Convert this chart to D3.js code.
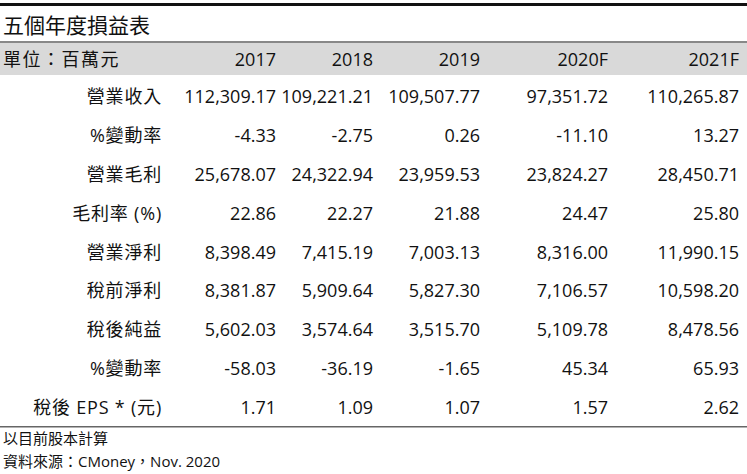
<!DOCTYPE html>
<html><head><meta charset="utf-8">
<script src="https://cdn.jsdelivr.net/npm/d3@7"></script>
<style>body{margin:0;background:#fff}text{font-family:"Open Sans","Noto Sans CJK TC",sans-serif;fill:#111}</style>
</head><body><svg id="c" width="747" height="474"></svg>
<script>
// table contents
var years = ["2017", "2018", "2019", "2020F", "2021F"];
var rowLabels = ["營業收入", "%變動率", "營業毛利", "毛利率 (%)", "營業淨利", "稅前淨利", "稅後純益", "%變動率", "稅後 EPS * (元)"];
var revenue = ["112,309.17", "109,221.21", "109,507.77", "97,351.72", "110,265.87"];
var revenueChg = ["-4.33", "-2.75", "0.26", "-11.10", "13.27"];
var grossProfit = ["25,678.07", "24,322.94", "23,959.53", "23,824.27", "28,450.71"];
var grossMargin = ["22.86", "22.27", "21.88", "24.47", "25.80"];
var opIncome = ["8,398.49", "7,415.19", "7,003.13", "8,316.00", "11,990.15"];
var preTax = ["8,381.87", "5,909.64", "5,827.30", "7,106.57", "10,598.20"];
var netIncome = ["5,602.03", "3,574.64", "3,515.70", "5,109.78", "8,478.56"];
var netChg = ["-58.03", "-36.19", "-1.65", "45.34", "65.93"];
var eps = ["1.71", "1.09", "1.07", "1.57", "2.62"];
var rows = [revenue, revenueChg, grossProfit, grossMargin, opIncome, preTax, netIncome, netChg, eps];

var svg = d3.select("#c");
var colRight = d3.scaleOrdinal().domain(years).range([276, 373, 480, 608, 739]);
var y = d3.scaleBand().domain(d3.range(rows.length)).range([78, 427]);

svg.append("rect").attr("x", 0).attr("y", 3).attr("width", 747).attr("height", 3).attr("fill", "#111");
svg.append("text").attr("x", 3).attr("y", 33).attr("font-size", 21).text("五個年度損益表");
svg.append("rect").attr("x", 0).attr("y", 41).attr("width", 747).attr("height", 2).attr("fill", "#888");
svg.append("rect").attr("x", 0).attr("y", 43).attr("width", 747).attr("height", 32).attr("fill", "#d9d9d9");
svg.append("text").attr("x", 3).attr("y", 66).attr("font-size", 18).attr("letter-spacing", 1.5).text("單位：百萬元");
years.forEach(function(yr) {
    svg.append("text").attr("x", colRight(yr)).attr("y", 66).attr("font-size", 18)
        .attr("text-anchor", "end").text(yr);
});

rows.forEach(function(vals, i) {
    var cy = y(i) + y.bandwidth() / 2 + 6;
    svg.append("text").attr("x", 162).attr("y", cy).attr("font-size", 18)
        .attr("text-anchor", "end").attr("letter-spacing", 0.8).text(rowLabels[i]);
    vals.forEach(function(v, j) {
        svg.append("text").attr("x", colRight(years[j])).attr("y", cy).attr("font-size", 18)
            .attr("text-anchor", "end").text(v);
    });
});

svg.append("rect").attr("x", 0).attr("y", 426).attr("width", 747).attr("height", 1.5).attr("fill", "#666");
svg.append("text").attr("x", 3).attr("y", 444).attr("font-size", 15).text("以目前股本計算");
svg.append("text").attr("x", 3).attr("y", 467).attr("font-size", 15).text("資料來源：CMoney，Nov. 2020");
</script></body></html>
